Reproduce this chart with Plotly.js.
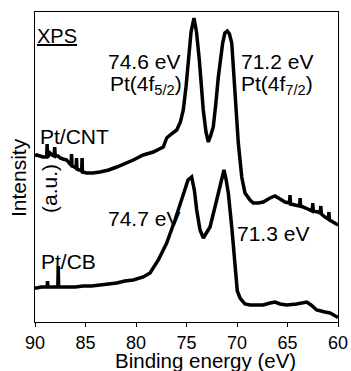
<!DOCTYPE html>
<html>
<head>
<meta charset="utf-8">
<script src="https://cdn.plot.ly/plotly-3.0.1.min.js"></script>
<style>html,body{margin:0;padding:0;background:#fff;}#chart{width:351px;height:371px;}</style>
</head>
<body>
<div id="chart"></div>
<script>
// Binding energy (eV) and intensity (a.u.)
const cntEnergy = [90, 89.83, 89.5, 89.2, 88.85, 88.8, 88.75, 88.51, 88.3, 88.1, 88.05, 88.0, 87.72, 87.5, 87.23, 86.86, 86.53, 86.42, 86.38, 86.34, 86.1, 85.93, 85.89, 85.85, 85.6, 85.38, 85.34, 85.3, 84.88, 84.3, 83.56, 82.7, 81.91, 81.1, 80.27, 79.28, 78.29, 77.3, 76.96, 76.5, 75.97, 75.6, 75.32, 75.05, 74.82, 74.55, 74.26, 74.01, 73.73, 73.34, 73.07, 72.84, 72.62, 72.35, 72.1, 71.85, 71.42, 71.2, 70.96, 70.75, 70.52, 70.2, 69.87, 69.53, 69.21, 68.71, 68.39, 67.9, 67.4, 66.73, 66.24, 65.74, 65.25, 64.8, 64.75, 64.7, 64.09, 63.8, 63.75, 63.7, 63.2, 62.77, 62.55, 62.5, 62.45, 62.0, 61.78, 61.7, 61.65, 61.29, 60.95, 60.9, 60.85, 60.5, 60.07, 60];
const cntIntensity = [166, 167, 166, 165, 165, 178, 165, 169, 167, 166, 175, 166, 166, 164, 163, 162, 158, 157, 168, 156, 155, 154, 164, 153, 152, 151, 164, 150, 149, 149, 150, 152, 155, 158, 162, 167, 170, 175, 184, 188, 192, 200, 212, 235, 262, 290, 304, 290, 262, 212, 190, 180, 186, 195, 218, 245, 279, 289, 291, 288, 279, 229, 179, 145, 129, 122, 119, 119, 120, 124, 126, 123, 120, 119, 127, 118, 117, 116, 124, 116, 114, 112, 111, 119, 111, 110, 109, 116, 108, 105, 103, 110, 102, 100, 98, 97];

const cbEnergy = [90, 89.83, 89.4, 89.11, 88.8, 88.76, 88.72, 88.3, 88.0, 87.74, 87.7, 87.66, 87.3, 86.86, 86.0, 85.22, 84.4, 83.56, 82.7, 81.91, 81.1, 80.27, 79.28, 78.61, 77.79, 76.96, 76.14, 75.32, 74.85, 74.49, 74.21, 73.99, 73.66, 73.33, 73.07, 72.67, 72.01, 71.51, 71.29, 71.09, 70.86, 70.52, 70.2, 69.97, 69.7, 69.21, 68.71, 67.4, 66.73, 66.24, 65.74, 65.08, 64.09, 63.1, 62.67, 62.11, 61.29, 60.79, 60.07, 60];
const cbIntensity = [34, 34, 35, 35, 35, 41, 35, 35, 35, 35, 56, 35, 35, 35, 35, 36, 36, 37, 38, 39, 41, 42, 45, 49, 62, 79, 102, 129, 142, 145, 131, 112, 92, 84, 88, 95, 122, 142, 152, 143, 129, 95, 52, 31, 24, 18, 17, 17, 19, 20, 18, 17, 18, 20, 17, 12, 10, 9, 5, 4];

const xTicks = [90, 85, 80, 75, 70, 65, 60];

const FONT = '"Liberation Sans", Arial, Helvetica, sans-serif';
const lineStyle = {color: '#000', width: 3.5};

const traces = [
  {x: cntEnergy, y: cntIntensity, mode: 'lines', line: lineStyle, name: 'Pt/CNT'},
  {x: cbEnergy, y: cbIntensity, mode: 'lines', line: lineStyle, name: 'Pt/CB'}
];

// plot area in pixels: x 35..338, y 12..322
function px(x) { return (x - 35) / 303; }
function py(y) { return (322 - y) / 310; }

function label(text, x, y, xanchor, size) {
  return {text: text, xref: 'paper', yref: 'paper', x: px(x), y: py(y), xanchor: xanchor || 'left', yanchor: 'middle',
          showarrow: false, font: {family: FONT, size: size || 21, color: '#000'}};
}

const annotations = [
  label('<u>XPS</u>', 35, 36, 'left', 20),
  label('74.6 eV', 182, 62, 'right'),
  label('Pt(4f<sub>5/2</sub>)', 184, 85, 'right'),
  label('71.2 eV', 239, 62, 'left'),
  label('Pt(4f<sub>7/2</sub>)', 239, 85, 'left'),
  label('Pt/CNT', 38, 136, 'left'),
  label('74.7 eV', 182, 218, 'right'),
  label('71.3 eV', 235, 233, 'left'),
  label('Pt/CB', 39, 261, 'left'),
  {text: 'Binding energy (eV)', xref: 'paper', yref: 'paper', x: px(205), y: py(360), xanchor: 'center', yanchor: 'middle',
   showarrow: false, font: {family: FONT, size: 20.5, color: '#000'}},
  {text: 'Intensity', xref: 'paper', yref: 'paper', x: px(19), y: py(178), xanchor: 'center', yanchor: 'middle', textangle: -90,
   showarrow: false, font: {family: FONT, size: 21, color: '#000'}},
  {text: '(a.u.)', xref: 'paper', yref: 'paper', x: px(49), y: py(189), xanchor: 'center', yanchor: 'middle', textangle: -90,
   showarrow: false, font: {family: FONT, size: 21, color: '#000'}}
];

const layout = {
  width: 351, height: 371,
  margin: {l: 35, r: 13, t: 12, b: 49, pad: 0},
  paper_bgcolor: '#fff', plot_bgcolor: '#fff',
  showlegend: false,
  font: {family: FONT, color: '#000'},
  xaxis: {
    range: [90, 60], tickmode: 'array', tickvals: xTicks, ticktext: xTicks.map(String),
    ticks: 'outside', ticklen: 4, tickwidth: 1, tickcolor: '#000',
    showline: true, mirror: true, linecolor: '#000', linewidth: 1,
    showgrid: false, zeroline: false,
    tickfont: {family: FONT, size: 18, color: '#000'}
  },
  yaxis: {
    range: [0, 310], showticklabels: false, ticks: '',
    showline: true, mirror: true, linecolor: '#000', linewidth: 1,
    showgrid: false, zeroline: false
  },
  annotations: annotations
};

Plotly.newPlot('chart', traces, layout, {staticPlot: true, displayModeBar: false});
</script>
</body>
</html>
